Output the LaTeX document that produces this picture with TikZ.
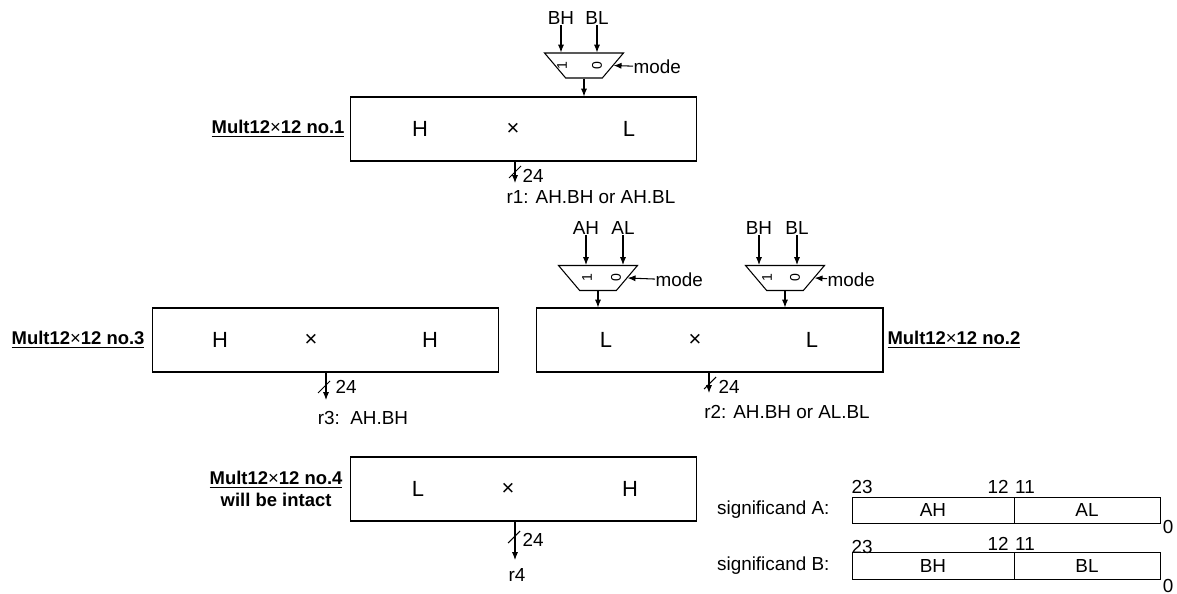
\documentclass[tikz,border=0pt]{standalone}
\usepackage{fontspec}
\setmainfont{Liberation Sans}
\usetikzlibrary{arrows.meta,shapes.geometric}

\begin{document}
\begin{tikzpicture}[x=0.02cm,y=-0.02cm,>={Latex[length=4.5pt,width=3.5pt]},line width=0.6pt,
  every node/.style={inner sep=0pt,font=\fontsize{10.75}{12}\selectfont},
  mult/.style={draw,minimum width=6.94cm,minimum height=1.28cm},
  big/.style={font=\fontsize{12.5}{14}\selectfont},
  tag/.style={font=\bfseries\fontsize{10.5}{12.5}\selectfont,align=center},
  mux/.style={draw,trapezium,trapezium stretches=true,shape border rotate=180,inner sep=2pt,
    trapezium angle=60,minimum width=1.58cm,minimum height=0.5cm},
  digit/.style={rotate=90,font=\fontsize{8}{9}\selectfont},
  field/.style={draw,line width=0.5pt,minimum height=0.53cm}]
\useasboundingbox (0,0) rectangle (1177,594);

% multiplier no.1
\node (bh1) at (561,18) {BH}; \node (bl1) at (597,18) {BL};
\node[mux] (mux1) at (584,65.5) {};
\node[digit] (m1a) at (562,66) {1}; \node[digit] (m1b) at (597,66) {0};
\node[anchor=west] (mode1) at (633,67) {mode};
\draw[->] (bh1) -- (bh1 |- mux1.north);
\draw[->] (bl1) -- (bl1 |- mux1.north);
\draw[->] (mode1) -- (mux1.east);
\node[mult] (box1) at (523.5,129) {};
\node[big] (h1) at (420,129) {H}; \node[big] (x1) at (513,129) {×}; \node[big] (l1) at (629,129) {L};
\node[tag,anchor=east] (t1) at (345,129) {\underline{Mult12{\mdseries×}12 no.1}};
\draw[->] (mux1) -- (mux1 |- box1.north);
\coordinate (o1) at (515,183); \coordinate (s1) at (515,172);
\draw[->] (box1.south -| o1) -- (o1);
\draw ([shift={(-6,6)}]s1) -- ([shift={(6,-6)}]s1);
\node[anchor=west] (w1) at (522,176) {24};
\node (r1) at (591,197) {r1: AH.BH or AH.BL};

% multiplier no.3
\node[mult] (box3) at (325.5,340) {};
\node[big] (h3a) at (220,340) {H}; \node[big] (x3) at (311,340) {×}; \node[big] (h3b) at (430,340) {H};
\node[tag,anchor=east] (t3) at (145,340) {\underline{Mult12{\mdseries×}12 no.3}};
\coordinate (o3) at (326,400); \coordinate (s3) at (324,387);
\draw[->] (box3.south -| o3) -- (o3);
\draw ([shift={(-6,6)}]s3) -- ([shift={(6,-6)}]s3);
\node[anchor=west] (w3) at (335,387) {24};
\node (r3) at (363,418) {r3:\ \ AH.BH};

% multiplier no.2
\node (ah2) at (586,228) {AH}; \node (al2) at (623,228) {AL};
\node[mux] (mux2) at (598,278) {};
\node[digit] (m2a) at (587,278) {1}; \node[digit] (m2b) at (616,278) {0};
\node[anchor=west] (mode2) at (655,280) {mode};
\draw[->] (ah2) -- (ah2 |- mux2.north);
\draw[->] (al2) -- (al2 |- mux2.north);
\draw[->] (mode2) -- (mux2.east);
\node (bh2) at (759,228) {BH}; \node (bl2) at (797,228) {BL};
\node[mux] (mux3) at (785,278) {};
\node[digit] (m3a) at (767,278) {1}; \node[digit] (m3b) at (795,278) {0};
\node[anchor=west] (mode3) at (827,280) {mode};
\draw[->] (bh2) -- (bh2 |- mux3.north);
\draw[->] (bl2) -- (bl2 |- mux3.north);
\draw[->] (mode3) -- (mux3.east);
\node[mult] (box2) at (709.5,340) {};
\node[big] (l2a) at (606,340) {L}; \node[big] (x2) at (695,340) {×}; \node[big] (l2b) at (812,340) {L};
\node[tag,anchor=west] (t2) at (887,340) {\underline{Mult12{\mdseries×}12 no.2}};
\draw[->] (mux2) -- (mux2 |- box2.north);
\draw[->] (mux3) -- (mux3 |- box2.north);
\coordinate (o2) at (709,393); \coordinate (s2) at (710,383);
\draw[->] (box2.south -| o2) -- (o2);
\draw ([shift={(-6,6)}]s2) -- ([shift={(6,-6)}]s2);
\node[anchor=west] (w2) at (718,387) {24};
\node (r2) at (787,412) {r2: AH.BH or AL.BL};

% multiplier no.4
\node[mult] (box4) at (523.5,489) {};
\node[big] (l4) at (418,489) {L}; \node[big] (x4) at (508,489) {×}; \node[big] (h4) at (630,489) {H};
\node[tag,anchor=east] (t4) at (343,489) {\underline{Mult12{\mdseries×}12 no.4}\\will be intact};
\coordinate (o4) at (515,560); \coordinate (s4) at (514,537);
\draw[->] (box4.south -| o4) -- (o4);
\draw ([shift={(-6,6)}]s4) -- ([shift={(6,-6)}]s4);
\node[anchor=west] (w4) at (522,540) {24};
\node (r4) at (517,575) {r4};

% significands
\node[anchor=east] (sa) at (830,510) {significand A:};
\node[field,minimum width=3.24cm] (fah) at (933,510.5) {AH};
\node[field,minimum width=2.92cm] (fal) at (1087,510.5) {AL};
\node (a23) at (862,487) {23}; \node (a12) at (998,487) {12}; \node (a11) at (1025,487) {11};
\node (a0) at (1168,527) {0};
\node[anchor=east] (sb) at (830,566) {significand B:};
\node[field,minimum width=3.24cm] (fbh) at (933,566) {BH};
\node[field,minimum width=2.92cm] (fbl) at (1087,566) {BL};
\node (b23) at (862,547) {23}; \node (b12) at (998,544) {12}; \node (b11) at (1025,544) {11};
\node (b0) at (1168,586) {0};
\end{tikzpicture}
\end{document}
